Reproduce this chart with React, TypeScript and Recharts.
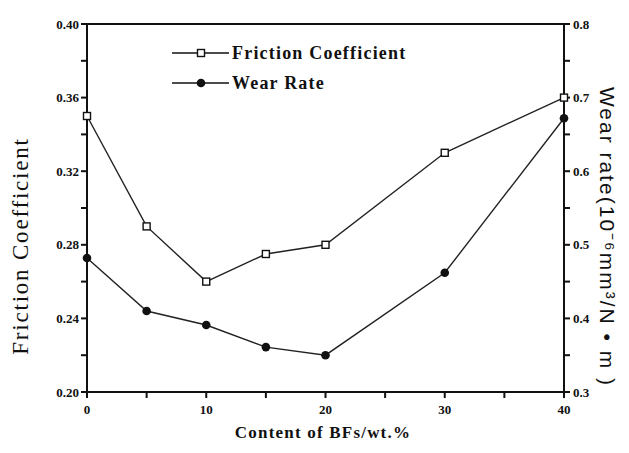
import { Line, LineChart, ReferenceLine, XAxis, YAxis } from 'recharts'

const CONTENT = [0, 5, 10, 15, 20, 30, 40]
const FRICTION = [0.35, 0.29, 0.26, 0.275, 0.28, 0.33, 0.36]
const WEAR_RATE = [0.482, 0.41, 0.391, 0.361, 0.35, 0.462, 0.672]

const X_TICKS = [0, 5, 10, 15, 20, 25, 30, 35, 40]
const LEFT_TICKS = [0.2, 0.22, 0.24, 0.26, 0.28, 0.3, 0.32, 0.34, 0.36, 0.38, 0.4]
const RIGHT_TICKS = [0.3, 0.35, 0.4, 0.45, 0.5, 0.55, 0.6, 0.65, 0.7, 0.75, 0.8]

const SERIF = '"Liberation Serif", "DejaVu Serif", serif'
const SANS = '"Liberation Sans", Arial, sans-serif'

const tickStyle = { fontSize: 13, fill: '#111', fontFamily: SERIF, fontWeight: 700 }

const SquareDot = (props: any) => {
  const { cx, cy, index } = props
  if (cx == null || cy == null) return <g key={index} />
  return <rect key={index} x={cx - 3.5} y={cy - 3.5} width={7} height={7} fill="#fff" stroke="#111" strokeWidth={1.4} />
}

const RoundDot = (props: any) => {
  const { cx, cy, index } = props
  if (cx == null || cy == null) return <g key={index} />
  return <circle key={index} cx={cx} cy={cy} r={4.3} fill="#111" />
}

// legend sits inside the plot frame, drawn over the chart
function ChartLegend() {
  const rows = [
    { name: 'Friction Coefficient', filled: false },
    { name: 'Wear Rate', filled: true },
  ]
  return (
    <div
      style={{
        position: 'absolute',
        left: 172,
        top: 38,
        fontFamily: SERIF,
        fontSize: 18,
        fontWeight: 700,
        color: '#111',
        lineHeight: '30px',
      }}
    >
      {rows.map((r) => (
        <div key={r.name} style={{ display: 'flex', alignItems: 'center', height: 30 }}>
          <svg width={57} height={12}>
            <line x1={0} y1={6} x2={57} y2={6} stroke="#111" strokeWidth={1.5} />
            {r.filled ? (
              <circle cx={29} cy={6} r={4.3} fill="#111" />
            ) : (
              <rect x={25.5} y={2.5} width={7} height={7} fill="#fff" stroke="#111" strokeWidth={1.4} />
            )}
          </svg>
          <span style={{ marginLeft: 3, letterSpacing: 1.2 }}>{r.name}</span>
        </div>
      ))}
    </div>
  )
}

export default function App() {
  const data = CONTENT.map((c, i) => ({
    content: c,
    friction: FRICTION[i],
    wear: WEAR_RATE[i],
  }))

  return (
    <div style={{ position: 'absolute', left: 0, top: 0, width: 629, height: 453, background: '#fff' }}>
      <LineChart width={629} height={453} data={data} margin={{ top: 24, right: 0, bottom: 0, left: 0 }}>
        <XAxis
          dataKey="content"
          type="number"
          domain={[0, 40]}
          ticks={X_TICKS}
          tickFormatter={(v) => (v % 10 === 0 ? String(v) : '')}
          height={61}
          stroke="#111"
          strokeWidth={2}
          tickSize={6}
          tickMargin={7}
          tick={tickStyle}
          label={{
            content: () => (
              <text x={323} y={438} textAnchor="middle" fontFamily={SERIF} fontWeight={700} fontSize={17} fill="#111" letterSpacing={1.2}>
                Content of BFs/wt.%
              </text>
            ),
          }}
        />
        <YAxis
          yAxisId="left"
          domain={[0.2, 0.4]}
          ticks={LEFT_TICKS}
          tickFormatter={(v) => (Math.round(v * 100) % 4 === 0 ? v.toFixed(2) : '')}
          width={87}
          stroke="#111"
          strokeWidth={2}
          tickSize={6}
          tick={tickStyle}
          label={{
            content: () => (
              <text
                x={28}
                y={246}
                transform="rotate(-90 28 246)"
                textAnchor="middle"
                fontFamily={SERIF}
                fontSize={23}
                letterSpacing={1.8}
                fill="#111"
              >
                Friction Coefficient
              </text>
            ),
          }}
        />
        <YAxis
          yAxisId="right"
          orientation="right"
          domain={[0.3, 0.8]}
          ticks={RIGHT_TICKS}
          tickFormatter={(v) => (Math.round(v * 100) % 10 === 0 ? v.toFixed(1) : '')}
          width={65}
          stroke="#111"
          strokeWidth={2}
          tickSize={6}
          tickMargin={3}
          tick={tickStyle}
          label={{
            content: () => (
              <text
                x={600}
                y={237}
                transform="rotate(90 600 237)"
                textAnchor="middle"
                fontFamily={SANS}
                fontSize={21}
                letterSpacing={2}
                fill="#111"
              >
                Wear rate(10⁻⁶mm³/N • m )
              </text>
            ),
          }}
        />
        <ReferenceLine yAxisId="left" y={0.4} stroke="#111" strokeWidth={2} />
        <Line
          yAxisId="left"
          dataKey="friction"
          name="Friction Coefficient"
          type="linear"
          stroke="#222"
          strokeWidth={1.4}
          dot={SquareDot}
          isAnimationActive={false}
        />
        <Line
          yAxisId="right"
          dataKey="wear"
          name="Wear Rate"
          type="linear"
          stroke="#222"
          strokeWidth={1.4}
          dot={RoundDot}
          isAnimationActive={false}
        />
      </LineChart>
      <ChartLegend />
    </div>
  )
}
